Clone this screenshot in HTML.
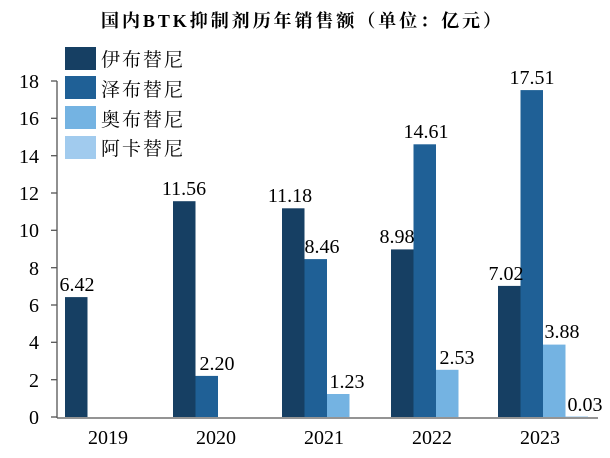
<!DOCTYPE html>
<html><head><meta charset="utf-8"><style>
html,body{margin:0;padding:0;background:#fff;width:610px;height:458px;overflow:hidden}
text{font-family:"Liberation Serif","Noto Serif CJK SC",serif;fill:#000}
</style></head><body>
<svg width="610" height="458" xmlns="http://www.w3.org/2000/svg">
<text x="101" y="27" font-size="18" font-weight="bold" textLength="400" lengthAdjust="spacing">国内BTK抑制剂历年销售额（单位：亿元）</text>
<g font-size="19">
<rect x="65" y="47" width="31" height="23" fill="#163f63"/><text x="101" y="66" textLength="82">伊布替尼</text>
<rect x="65" y="76" width="31" height="23" fill="#1f6096"/><text x="101" y="96" textLength="82">泽布替尼</text>
<rect x="65" y="106" width="31" height="23" fill="#74b3e2"/><text x="101" y="126" textLength="82">奥布替尼</text>
<rect x="65" y="136" width="31" height="23" fill="#a1cbee"/><text x="101" y="155" textLength="82">阿卡替尼</text>
</g>
<g stroke="#555" stroke-width="1.3">
<line x1="57" y1="81" x2="57" y2="418"/>
<line x1="57" y1="418" x2="598" y2="418"/>
<line x1="51" y1="81" x2="57" y2="81"/><line x1="51" y1="118.3" x2="57" y2="118.3"/><line x1="51" y1="155.7" x2="57" y2="155.7"/><line x1="51" y1="193" x2="57" y2="193"/><line x1="51" y1="230.3" x2="57" y2="230.3"/><line x1="51" y1="267.7" x2="57" y2="267.7"/><line x1="51" y1="305" x2="57" y2="305"/><line x1="51" y1="342.3" x2="57" y2="342.3"/><line x1="51" y1="379.7" x2="57" y2="379.7"/><line x1="51" y1="417" x2="57" y2="417"/>
</g>
<g font-size="20" text-anchor="end">
<text x="39" y="88">18</text><text x="39" y="125">16</text><text x="39" y="163">14</text><text x="39" y="200">12</text><text x="39" y="237">10</text><text x="39" y="275">8</text><text x="39" y="312">6</text><text x="39" y="349">4</text><text x="39" y="387">2</text><text x="39" y="424">0</text>
</g>
<g>
<rect x="65" y="297.1" width="22.5" height="119.9" fill="#163f63"/>
<rect x="173" y="201.2" width="22.5" height="215.8" fill="#163f63"/>
<rect x="195.5" y="375.9" width="22.5" height="41.1" fill="#1f6096"/>
<rect x="282" y="208.3" width="22.5" height="208.7" fill="#163f63"/>
<rect x="304.5" y="259.1" width="22.5" height="157.9" fill="#1f6096"/>
<rect x="327" y="394" width="22.5" height="23" fill="#74b3e2"/>
<rect x="391" y="249.4" width="22.5" height="167.6" fill="#163f63"/>
<rect x="413.5" y="144.3" width="22.5" height="272.7" fill="#1f6096"/>
<rect x="436" y="369.8" width="22.5" height="47.2" fill="#74b3e2"/>
<rect x="498" y="285.9" width="22.5" height="131.1" fill="#163f63"/>
<rect x="520.5" y="90.1" width="22.5" height="326.9" fill="#1f6096"/>
<rect x="543" y="344.6" width="22.5" height="72.4" fill="#74b3e2"/>
<rect x="565.5" y="416.4" width="22.5" height="0.6" fill="#a1cbee"/>
</g>
<g font-size="20" text-anchor="middle">
<text x="77" y="291">6.42</text>
<text x="184" y="195">11.56</text><text x="217" y="370">2.20</text>
<text x="290" y="202">11.18</text><text x="322" y="253">8.46</text><text x="347" y="388">1.23</text>
<text x="397" y="243">8.98</text><text x="426" y="138">14.61</text><text x="457" y="364">2.53</text>
<text x="506" y="280">7.02</text><text x="532" y="84">17.51</text><text x="562" y="338">3.88</text><text x="585" y="411">0.03</text>
<text x="108" y="444">2019</text><text x="216" y="444">2020</text><text x="324" y="444">2021</text><text x="432" y="444">2022</text><text x="540" y="444">2023</text>
</g>
</svg>
</body></html>
